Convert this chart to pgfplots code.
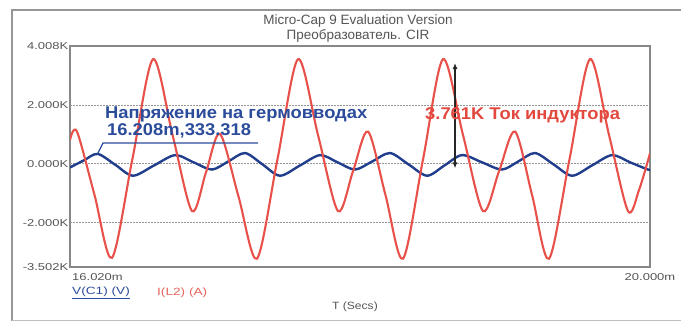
\documentclass[border=0pt]{standalone}
\usepackage{fontspec}
\setmainfont{Liberation Sans}
\newfontfamily\tickfont[FakeStretch=1.3]{Liberation Sans}
\newfontfamily\capfont[FakeStretch=1.15]{Liberation Sans}
\newfontfamily\annfont[FakeStretch=1.08]{Liberation Sans}
\usepackage{pgfplots}
\pgfplotsset{compat=1.18}
\usetikzlibrary{arrows.meta}
\definecolor{cred}{RGB}{232,80,74}
\definecolor{cblue}{RGB}{33,62,140}
\definecolor{tblue}{RGB}{43,76,155}
\definecolor{tred}{RGB}{226,72,62}
\definecolor{lgray}{RGB}{85,85,85}
\definecolor{fgray}{RGB}{150,150,150}
\begin{document}
\begin{tikzpicture}[x=1pt,y=1pt]
\path[use as bounding box] (0,0) rectangle (681,324);
% outer frame
\draw[fgray, line width=1.5pt] (12,3) -- (12,314) -- (681,314);
\draw[fgray!60, line width=1pt] (12,3) -- (681,3);
% title
\node[text=lgray, font=\fontsize{13.5}{16}\selectfont] at (358,303) {Micro-Cap 9 Evaluation Version};
\node[text=lgray, font=\fontsize{13.5}{16}\selectfont] at (358,288) {Преобразователь. CIR};
\begin{axis}[
  at={(70pt,57pt)}, anchor=south west,
  scale only axis, width=580pt, height=221pt,
  xmin=16.02, xmax=20, ymin=-3.502, ymax=4.008,
  xtick=\empty,
  ytick={-3.502,-2,0,2,4.008},
  yticklabels={-3.502K,-2.000K,0.000K,2.000K,4.008K},
  yticklabel style={anchor=east, inner sep=1.5pt, text=lgray, font=\tickfont\fontsize{10}{12}\selectfont},
  major tick length=0pt,
  extra y ticks={-2,0,2},
  extra y tick labels={},
  extra y tick style={grid=major, major grid style={fgray, line width=1pt, dash pattern=on 1.5pt off 1.5pt}},
  axis line style={fgray!90!black, line width=1.3pt},
  clip=true,
]
\addplot[cblue, line width=2.4pt, smooth] coordinates {
(16.020,-0.12) (16.115,0.12) (16.210,0.34) (16.331,-0.03) (16.452,-0.40)
(16.597,-0.05) (16.741,0.30) (16.868,0.055) (16.994,-0.19) (17.108,0.09)
(17.221,0.37) (17.341,-0.015) (17.461,-0.40) (17.599,-0.05) (17.736,0.30)
(17.856,0.055) (17.976,-0.19) (18.096,0.09) (18.216,0.37) (18.343,-0.015)
(18.470,-0.40) (18.590,-0.05) (18.710,0.30) (18.847,0.055) (18.984,-0.19)
(19.098,0.09) (19.211,0.37) (19.338,-0.015) (19.465,-0.40) (19.602,-0.05)
(19.739,0.30) (19.863,0.055) (19.986,-0.19) (20.000,-0.19)
};
\addplot[cred, line width=2.1pt, smooth] coordinates {
(16.020,0.82) (16.068,1.10) (16.188,-1.05) (16.308,-3.19) (16.449,0.19)
(16.590,3.56) (16.724,0.98) (16.857,-1.60) (16.953,-0.29) (17.049,1.02)
(17.176,-1.10) (17.303,-3.22) (17.444,0.17) (17.585,3.56) (17.722,0.98)
(17.859,-1.60) (17.962,-0.25) (18.065,1.10) (18.185,-1.06) (18.305,-3.22)
(18.443,0.17) (18.580,3.56) (18.717,0.98) (18.854,-1.60) (18.964,-0.25)
(19.074,1.10) (19.191,-1.06) (19.307,-3.22) (19.448,0.17) (19.588,3.56)
(19.719,0.98) (19.849,-1.60) (19.925,-0.88) (20.000,0.36)
};
% cursor
\draw[black!85, line width=1.2pt, {Latex[length=6pt,width=5pt]}-{Latex[length=6pt,width=5pt]}] (axis cs:18.662,3.43) -- (axis cs:18.662,-0.15);
\coordinate (bpk) at (axis cs:16.208,0.333);
\end{axis}
% blue annotation
\draw[tblue, line width=1.2pt] (bpk) -- (103,181) -- (258,181);
\node[anchor=west, inner sep=0pt, text=tblue, font=\annfont\bfseries\fontsize{17}{20}\selectfont] at (105,210) {Напряжение на гермовводах};
\node[anchor=west, inner sep=0pt, text=tblue, font=\annfont\bfseries\fontsize{17}{20}\selectfont] at (107,193) {16.208m,333.318};
% red annotation
\node[anchor=west, inner sep=0pt, text=tred, font=\annfont\bfseries\fontsize{17}{20}\selectfont] at (425,209) {3.761K Ток индуктора};
% x labels
\node[anchor=west, inner sep=0pt, text=lgray, font=\tickfont\fontsize{10}{12}\selectfont] at (72,47) {16.020m};
\node[inner sep=0pt, text=lgray, font=\tickfont\fontsize{10}{12}\selectfont] at (650,47) {20.000m};
% legend
\node[anchor=west, inner sep=0pt, text=tblue, font=\tickfont\fontsize{10.5}{12}\selectfont] at (72,31) {\underline{V(C1) (V)}};
\node[anchor=west, inner sep=0pt, text=tred!85!white, font=\tickfont\fontsize{10.5}{12}\selectfont] at (157,31) {I(L2) (A)};
\node[inner sep=0pt, text=lgray, font=\capfont\fontsize{10.5}{12}\selectfont] at (355,17) {T (Secs)};
\end{tikzpicture}
\end{document}
